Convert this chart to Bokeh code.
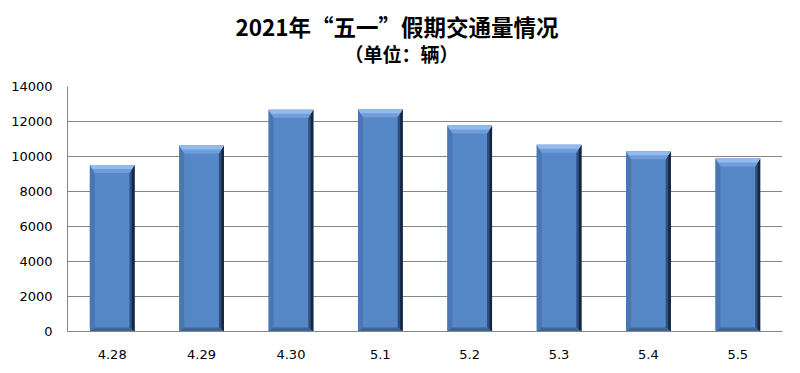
from bokeh.plotting import figure
from bokeh.models import Range1d, FixedTicker, Title
from bokeh.embed import file_html
from bokeh.resources import INLINE

# ---- data ----
dates = ["4.28", "4.29", "4.30", "5.1", "5.2", "5.3", "5.4", "5.5"]
traffic = [9520, 10630, 12670, 12700, 11770, 10670, 10300, 9890]
y_ticks = [0, 2000, 4000, 6000, 8000, 10000, 12000, 14000]

title_text = "2021年“五一”假期交通量情况"
subtitle_text = "（单位：辆）"

W, H = 800, 373
ML, MR, MT, MB = 67, 18, 86, 42
frame_w = W - ML - MR
frame_h = H - MT - MB

n = len(dates)
ymax = 14000
p = figure(width=W, height=H, output_backend="svg", toolbar_location=None,
           x_range=Range1d(0, n), y_range=Range1d(0, ymax),
           min_border_left=ML, min_border_right=MR, min_border_top=MT,
           min_border_bottom=MB, title=None)
p.outline_line_color = None
p.background_fill_color = "white"
p.border_fill_color = "white"

ux = n / frame_w
uy = ymax / frame_h

centers = [i + 0.5 for i in range(n)]
bw = 0.5
p.vbar(x=centers, top=traffic, width=bw, bottom=0, fill_color="#5687C7", line_color=None)

s = 5 * ux   # side bevel
h = 8 * uy   # top bevel
b = 4 * uy   # bottom bevel
sr = 2.5 * ux

left_xs, left_ys = [], []
right_xs, right_ys = [], []
rout_xs, rout_ys = [], []
bot_xs, bot_ys = [], []
top_xs, top_ys = [], []
top2_xs, top2_ys = [], []
for c, v in zip(centers, traffic):
    x0, x1 = c - bw / 2, c + bw / 2
    left_xs.append([x0, x0 + s, x0 + s, x0]); left_ys.append([v, v - h, b, 0])
    right_xs.append([x1, x1 - s, x1 - s, x1]); right_ys.append([v, v - h, b, 0])
    rout_xs.append([x1, x1 - sr, x1 - sr, x1]); rout_ys.append([v, v - h / 2, b / 2, 0])
    bot_xs.append([x0, x1, x1 - s, x0 + s]); bot_ys.append([0, 0, b, b])
    top_xs.append([x0, x1, x1 - s, x0 + s]); top_ys.append([v, v, v - h, v - h])
    top2_xs.append([x0, x1, x1 - s / 2, x0 + s / 2]); top2_ys.append([v, v, v - h / 2, v - h / 2])

p.patches(left_xs, left_ys, fill_color="#4A77B4", line_color=None)
p.patches(right_xs, right_ys, fill_color="#2E4F7C", line_color=None)
p.patches(rout_xs, rout_ys, fill_color="#16263D", line_color=None)
p.patches(bot_xs, bot_ys, fill_color="#3D6497", line_color=None)
p.patches(top_xs, top_ys, fill_color="#6F9EDA", line_color=None)
p.patches(top2_xs, top2_ys, fill_color="#93BAEB", line_color=None)

# axes
p.xaxis.ticker = FixedTicker(ticks=centers)
p.xaxis.major_label_overrides = {c: d for c, d in zip(centers, dates)}
p.yaxis.ticker = FixedTicker(ticks=y_ticks)
for ax in (p.xaxis, p.yaxis):
    ax.axis_line_color = "#868686"
    ax.axis_line_width = 1
    ax.major_tick_line_color = None
    ax.minor_tick_line_color = None
    ax.major_label_text_font = "DejaVu Sans"
    ax.major_label_text_font_size = "13px"
    ax.major_label_text_color = "#000000"
p.xaxis.major_label_standoff = 12
p.yaxis.major_label_standoff = 9

p.xgrid.grid_line_color = None
p.ygrid.ticker = FixedTicker(ticks=y_ticks)
p.ygrid.grid_line_color = "#868686"
p.ygrid.grid_line_width = 1

sub = Title(text=subtitle_text, align="left", text_font="Noto Sans CJK SC",
            text_font_size="19px", text_font_style="bold", text_color="#000000",
            standoff=40, offset=277)
main = Title(text=title_text, align="left", text_font="Noto Sans CJK SC",
             text_font_size="22.5px", text_font_style="bold", text_color="#000000",
             standoff=-48, offset=168)
p.add_layout(sub, "above")
p.add_layout(main, "above")

open("out.html", "w").write(file_html(p, INLINE))
